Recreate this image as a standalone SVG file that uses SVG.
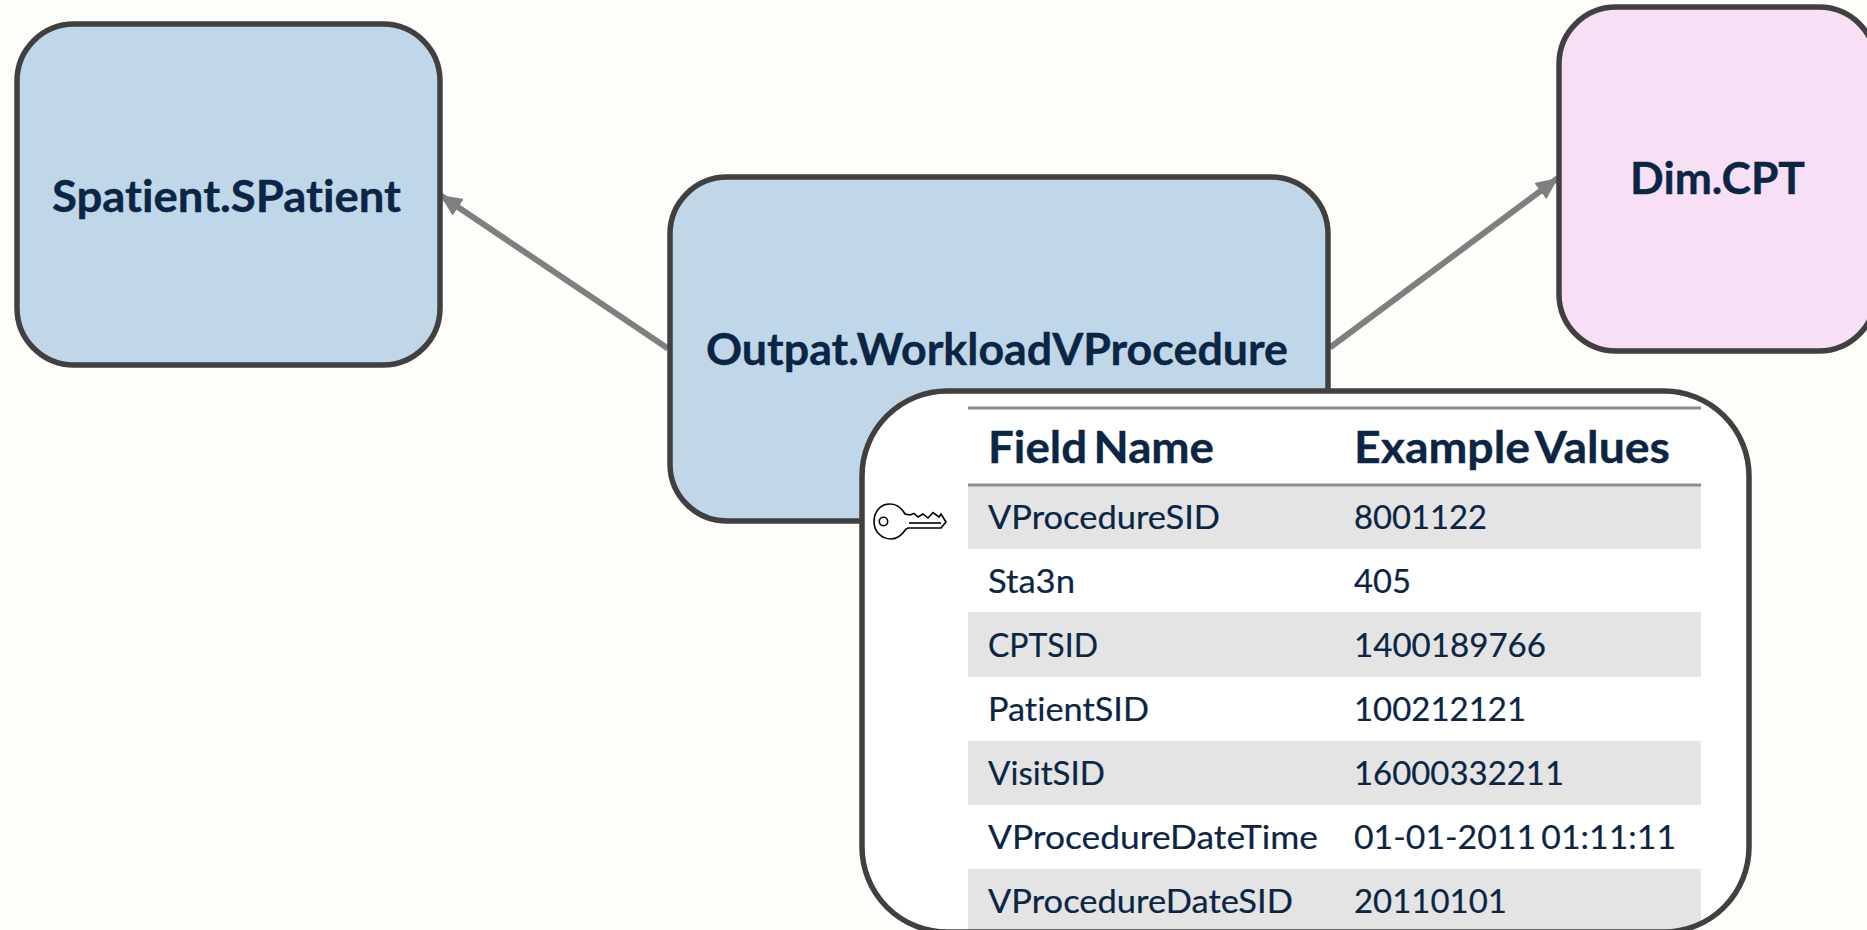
<svg xmlns="http://www.w3.org/2000/svg" width="1867" height="930" viewBox="0 0 1867 930">
<defs>
<marker id="arrow" markerUnits="userSpaceOnUse" markerWidth="24" markerHeight="22" refX="22" refY="11" orient="auto"><path d="M0,1 L22,11 L0,21 Z" fill="#7f7f7f"/></marker>
<clipPath id="panel"><rect x="862" y="391" width="887" height="541" rx="85"/></clipPath>
</defs>
<style>
.node{stroke:#404040;stroke-width:5.5}
.blue{fill:#bfd7e8}
.pink{fill:#f7dff5}
text{font-family:Lato,"Liberation Sans",sans-serif;fill:#0b2545;font-variant-ligatures:none}
.title{font-size:43px;font-weight:700;stroke:#0b2545;stroke-width:.35}
.head{font-size:43px;font-weight:700;stroke:#0b2545;stroke-width:.35;word-spacing:-.1em}
.cell{font-size:32px;stroke:#0b2545;stroke-width:.2}
.tight{word-spacing:-.1em}
.conn{stroke:#7f7f7f;stroke-width:6;fill:none;marker-end:url(#arrow)}
.rule{stroke:#8c8c8c;stroke-width:3}
.band{fill:#e4e4e4}
</style>
<rect width="1867" height="930" fill="#fefdf9"/>
<g id="connectors">
<path class="conn" d="M668,348.5 L440,195"/>
<path class="conn" d="M1330,347.5 L1558,178"/>
</g>
<g id="node-spatient">
<rect class="node blue" x="17" y="24" width="423" height="341" rx="57"/>
<text class="title" x="52" y="212" textLength="349" lengthAdjust="spacingAndGlyphs">Spatient.SPatient</text>
</g>
<g id="node-cpt">
<rect class="node pink" x="1559" y="7" width="317" height="344" rx="57"/>
<text class="title" x="1630" y="194" textLength="175" lengthAdjust="spacingAndGlyphs">Dim.CPT</text>
</g>
<g id="node-workload">
<rect class="node blue" x="670" y="177" width="658" height="344" rx="57"/>
<text class="title" x="706" y="365" textLength="582" lengthAdjust="spacingAndGlyphs">Outpat.WorkloadVProcedure</text>
</g>
<g id="node-fields">
<rect x="862" y="391" width="887" height="541" rx="85" fill="#fff"/>
<g clip-path="url(#panel)">
<rect class="band" x="968" y="485" width="733" height="64"/>
<rect class="band" x="968" y="612" width="733" height="65"/>
<rect class="band" x="968" y="741" width="733" height="64"/>
<rect class="band" x="968" y="869" width="733" height="61"/>
</g>
<rect class="node" x="862" y="391" width="887" height="541" rx="85" fill="none"/>
<line class="rule" x1="968" y1="408" x2="1701" y2="408"/>
<line class="rule" x1="968" y1="485" x2="1701" y2="485"/>
<text class="head" x="988" y="463" textLength="226" lengthAdjust="spacingAndGlyphs">Field Name</text>
<text class="head" x="1354" y="463" textLength="316" lengthAdjust="spacingAndGlyphs">Example Values</text>
<text class="cell" x="988" y="529" textLength="232" lengthAdjust="spacingAndGlyphs">VProcedureSID</text>
<text class="cell" x="1354" y="529" textLength="133" lengthAdjust="spacingAndGlyphs">8001122</text>
<text class="cell" x="988" y="593" textLength="87" lengthAdjust="spacingAndGlyphs">Sta3n</text>
<text class="cell" x="1354" y="593" textLength="57" lengthAdjust="spacingAndGlyphs">405</text>
<text class="cell" x="988" y="657" textLength="110" lengthAdjust="spacingAndGlyphs">CPTSID</text>
<text class="cell" x="1354" y="657" textLength="192" lengthAdjust="spacingAndGlyphs">1400189766</text>
<text class="cell" x="988" y="721" textLength="161" lengthAdjust="spacingAndGlyphs">PatientSID</text>
<text class="cell" x="1354" y="721" textLength="172" lengthAdjust="spacingAndGlyphs">100212121</text>
<text class="cell" x="988" y="785" textLength="117" lengthAdjust="spacingAndGlyphs">VisitSID</text>
<text class="cell" x="1354" y="785" textLength="210" lengthAdjust="spacingAndGlyphs">16000332211</text>
<text class="cell" x="988" y="849" textLength="330" lengthAdjust="spacingAndGlyphs">VProcedureDateTime</text>
<text class="cell tight" x="1354" y="849" textLength="322" lengthAdjust="spacingAndGlyphs">01-01-2011 01:11:11</text>
<text class="cell" x="988" y="913" textLength="305" lengthAdjust="spacingAndGlyphs">VProcedureDateSID</text>
<text class="cell" x="1354" y="913" textLength="153" lengthAdjust="spacingAndGlyphs">20110101</text>
<g id="key" fill="none" stroke="#000" stroke-width="1.6" transform="translate(0,1)">
<path d="M905,513 C901,506 895,503 890,503 C880,503 874,511 874,520.5 C874,530 881,538 891,538 C897,538 902,534 906,528 L908,527 L941,527 L946,521 L941,513 L939,516 L933,511.5 L928,517 L923,513 L918,516 L914,512.5 L910,514 Z"/>
<path d="M909,522 L941,522"/>
<circle cx="883.5" cy="520.5" r="4.2"/>
</g>
</g>
</svg>
